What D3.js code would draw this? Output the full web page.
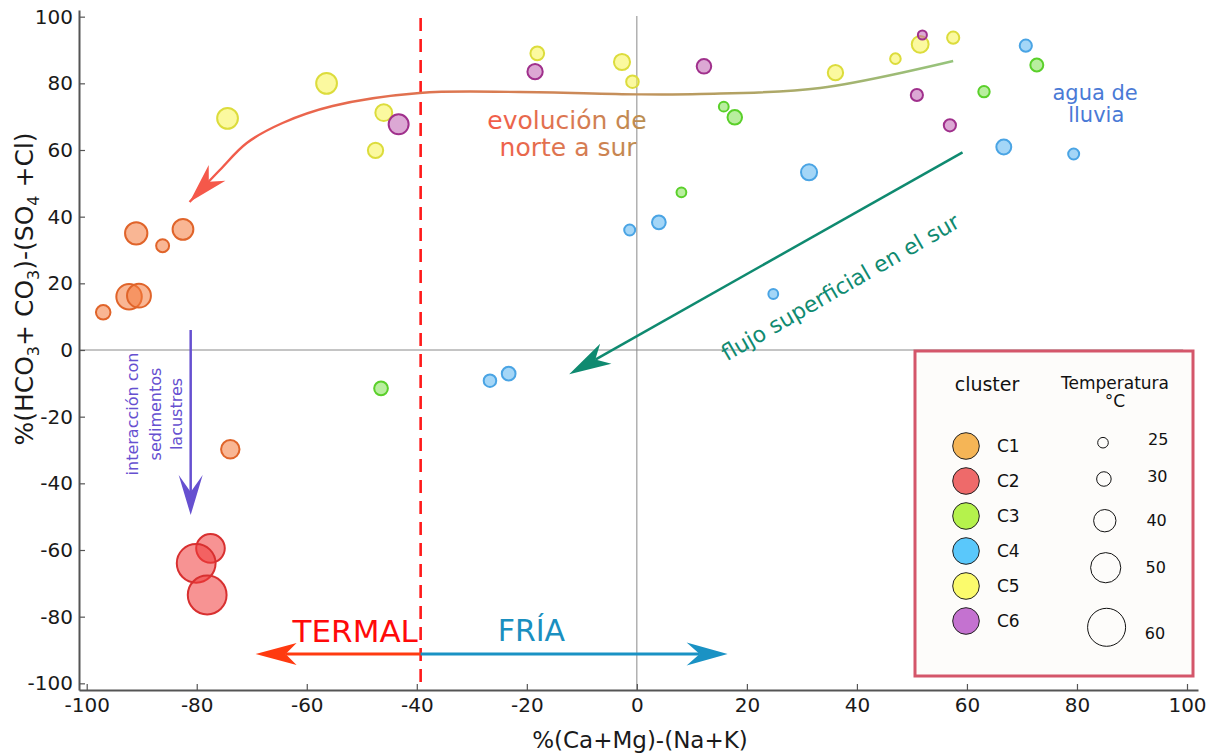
<!DOCTYPE html>
<html>
<head>
<meta charset="utf-8">
<script src="https://cdn.jsdelivr.net/npm/d3@7"></script>
<style>
  html, body { margin: 0; padding: 0; background: #fff; }
  svg { display: block; font-family: "DejaVu Sans", Verdana, sans-serif; }
</style>
</head>
<body>
<svg id="chart" width="1209" height="755"></svg>
<script>
// Samples per cluster: [ %(Ca+Mg)-(Na+K), %(HCO3+CO3)-(SO4+Cl), temperature °C ]
const c1 = [[-91.0, 35.0, 40], [-86.2, 31.3, 28], [-82.5, 36.2, 38], [-92.3, 16.0, 44],
            [-90.5, 16.3, 42], [-97.0, 11.3, 30], [-73.9, -29.8, 35]];
const c2 = [[-77.5, -59.5, 48], [-80.1, -64.0, 61], [-78.1, -73.5, 61]];
const c3 = [[-46.5, -11.5, 29], [15.8, 73.0, 24], [17.8, 69.8, 30], [8.1, 47.3, 24],
            [63.1, 77.5, 26], [72.7, 85.5, 28]];
const c4 = [[-1.3, 36.0, 25.5], [4.0, 38.3, 29], [31.3, 53.3, 32], [24.8, 16.8, 24],
            [-26.7, -9.2, 27.5], [-23.3, -7.1, 29], [70.7, 91.3, 27], [66.7, 60.9, 30.5],
            [79.4, 58.8, 25.5]];
const c5 = [[-74.4, 69.5, 38], [-56.4, 80.0, 38], [-46.0, 71.2, 33], [-47.5, 59.9, 31],
            [-18.1, 89.0, 29], [-2.7, 86.4, 32], [-0.8, 80.5, 27.5], [36.1, 83.2, 31],
            [47.0, 87.4, 25], [51.5, 91.7, 33], [57.5, 93.7, 27]];
const c6 = [[-43.3, 67.7, 37], [-18.5, 83.5, 31], [12.2, 85.1, 30], [51.9, 94.5, 23],
            [50.9, 76.5, 27], [56.9, 67.4, 27]];

const clusterNames = ["C1", "C2", "C3", "C4", "C5", "C6"];
const clusterData = [c1, c2, c3, c4, c5, c6];
const xTicks = [-100, -80, -60, -40, -20, 0, 20, 40, 60, 80, 100];
const yTicks = [-100, -80, -60, -40, -20, 0, 20, 40, 60, 80, 100];
const tempLegend = [25, 30, 40, 50, 60];

// Annotation geometry, in data units
const evolCurve = [[57.5, 86.7], [33.3, 78.6], [11.5, 76.8], [0, 76.7], [-21.3, 77.4],
                   [-39.5, 77.1], [-55.3, 73.2], [-64.4, 68.1], [-70.9, 62.1], [-75.8, 54.0],
                   [-81.3, 44.4]];
const surArrow = [[59.2, 59.3], [-12.3, -7.3]];
const lakeArrow = [[-81.1, 6.0], [-81.1, -49.5]];
const splitX = -39.3;
const thermalArrowY = -91.2;
const thermalTip = -69.3;
const coldTip = 16.5;

// Styling
const pointFill = ["#f47a3c", "#f03a3a", "#80e050", "#5ab4f0", "#f8f450", "#c060b0"];
const pointStroke = ["#e0642a", "#d83030", "#5ad02a", "#4aa4e4", "#dcdc3c", "#a0308c"];
const legendFill = ["#f5b556", "#ee6a6a", "#b5f24c", "#5ac8fb", "#fbfb6c", "#c472d0"];

const svg = d3.select("#chart");
const x = d3.scaleLinear().domain([-101.4, 102]).range([79, 1198]);
const y = d3.scaleLinear().domain([-102, 102]).range([690, 10]);
const r = d3.scaleLinear().domain([25, 60]).range([5.3, 19]);

const defs = svg.append("defs");
function hGradient(id, x1, x2, stops) {
  const g = defs.append("linearGradient").attr("id", id)
    .attr("gradientUnits", "userSpaceOnUse")
    .attr("x1", x1).attr("x2", x2).attr("y1", 0).attr("y2", 0);
  stops.forEach(([o, c]) => g.append("stop").attr("offset", o).attr("stop-color", c));
}
hGradient("evolLine", x(-81.3), x(57.5),
  [[0, "#f5574a"], [0.4, "#d87c52"], [0.7, "#b4a062"], [1, "#96c47c"]]);
hGradient("evolText", 483, 651, [[0, "#f45a48"], [0.55, "#d97a52"], [1, "#b89050"]]);

// Reference lines through zero
svg.append("line")
  .attr("x1", x(0)).attr("x2", x(0)).attr("y1", y(100.2)).attr("y2", y(-102))
  .attr("stroke", "#8a8a8a").attr("stroke-width", 1);
svg.append("line")
  .attr("x1", x(-101.4)).attr("x2", x(99.3)).attr("y1", y(0)).attr("y2", y(0))
  .attr("stroke", "#8a8a8a").attr("stroke-width", 1);

// Axes (ticks pointing inward)
const fmt = d => String(d);
const xAxis = svg.append("g").attr("transform", `translate(0,${y(-102)})`)
  .call(d3.axisBottom(x).tickValues(xTicks).tickFormat(fmt)
    .tickSizeInner(-6).tickSizeOuter(0).tickPadding(8));
const yAxis = svg.append("g").attr("transform", `translate(${x(-101.4)},0)`)
  .call(d3.axisLeft(y).tickValues(yTicks).tickFormat(fmt)
    .tickSizeInner(-6).tickSizeOuter(0).tickPadding(6));
[xAxis, yAxis].forEach(a => {
  a.select(".domain").attr("stroke", "#555").attr("stroke-width", 2);
  a.selectAll(".tick line").attr("stroke", "#555").attr("stroke-width", 1.2);
  a.selectAll(".tick text").attr("fill", "#1a1a1a").style("font-size", "20px")
    .style("font-family", "'DejaVu Sans', Verdana, sans-serif");
});

// Axis titles
svg.append("text")
  .attr("x", 640).attr("y", 748).attr("text-anchor", "middle")
  .style("font-size", "23px").attr("fill", "#1a1a1a")
  .text("%(Ca+Mg)-(Na+K)");
const yTitle = svg.append("text")
  .attr("transform", "translate(33,289) rotate(-90)")
  .attr("text-anchor", "middle").style("font-size", "25px").attr("fill", "#1a1a1a");
[["%(HCO", false], ["3", true], ["+ CO", false], ["3", true], [")-(SO", false],
 ["4", true], [" +Cl)", false]].forEach(([t, sub], i) => {
  const ts = yTitle.append("tspan").text(t);
  if (sub) ts.attr("dy", 6).style("font-size", "16px");
  else if (i > 0) ts.attr("dy", -6);
});

// Thermal / cold divide
svg.append("line")
  .attr("x1", x(splitX)).attr("x2", x(splitX)).attr("y1", y(99.6)).attr("y2", y(-102))
  .attr("stroke", "#ff1a1a").attr("stroke-width", 2.6).attr("stroke-dasharray", "13,8");

// Arrowhead helper: filled, notched triangle at tip, pointing away from `from`
function arrowHead(tip, from, L, W, N, color) {
  const dx = tip[0] - from[0], dy = tip[1] - from[1];
  const len = Math.hypot(dx, dy), ux = dx / len, uy = dy / len;
  const nx = -uy, ny = ux;
  const bx = tip[0] - L * ux, by = tip[1] - L * uy;
  const pts = [tip, [bx + W * nx, by + W * ny], [tip[0] - (L - N) * ux, tip[1] - (L - N) * uy],
               [bx - W * nx, by - W * ny]];
  svg.append("path").attr("d", "M" + pts.map(p => p.join(",")).join("L") + "Z")
    .attr("fill", color);
}
function straightArrow(p0, p1, color, width, L, W, N) {
  const a = [x(p0[0]), y(p0[1])], b = [x(p1[0]), y(p1[1])];
  const dx = b[0] - a[0], dy = b[1] - a[1], len = Math.hypot(dx, dy);
  const end = [b[0] - (L - N) * dx / len, b[1] - (L - N) * dy / len];
  svg.append("line").attr("x1", a[0]).attr("y1", a[1]).attr("x2", end[0]).attr("y2", end[1])
    .attr("stroke", color).attr("stroke-width", width);
  arrowHead(b, a, L, W, N, color);
}

// TERMAL / FRÍA arrows
straightArrow([splitX, thermalArrowY], [thermalTip, thermalArrowY], "#ff3a10", 3, 41, 11, 11);
straightArrow([splitX, thermalArrowY], [coldTip, thermalArrowY], "#1a92c4", 3, 41, 11.5, 13);
svg.append("text").attr("x", x(-39.8)).attr("y", y(-87.5)).attr("text-anchor", "end")
  .style("font-size", "31px").attr("fill", "#ff0a0a").text("TERMAL");
svg.append("text").attr("x", x(-25.3)).attr("y", y(-87.3)).attr("text-anchor", "start")
  .style("font-size", "30px").attr("fill", "#1a8fc0").text("FRÍA");

// North-to-south evolution curve
const evolPts = evolCurve.map(d => [x(d[0]), y(d[1])]);
svg.append("path")
  .attr("d", d3.line().curve(d3.curveCatmullRom.alpha(0.5))(evolPts))
  .attr("fill", "none").attr("stroke", "url(#evolLine)").attr("stroke-width", 2.4);
arrowHead(evolPts[evolPts.length - 1], evolPts[evolPts.length - 2], 40, 11.5, 12, "#f5584a");

const evolText = svg.append("text").attr("text-anchor", "middle")
  .style("font-size", "25px").attr("fill", "url(#evolText)");
evolText.append("tspan").attr("x", x(-12.7)).attr("y", y(66.3)).text("evolución de");
evolText.append("tspan").attr("x", x(-12.5)).attr("y", y(58.2)).text("norte a sur");

// Shallow flow in the south
straightArrow(surArrow[0], surArrow[1], "#0f8a70", 2.5, 42, 11.5, 12);
svg.append("text")
  .attr("transform", `translate(${x(37.0)},${y(18.8)}) rotate(-30)`)
  .attr("text-anchor", "middle").attr("dominant-baseline", "central")
  .style("font-size", "22px").attr("fill", "#0f8a70").text("flujo superficial en el sur");

// Interaction with lacustrine sediments
straightArrow(lakeArrow[0], lakeArrow[1], "#6650d0", 2.5, 40, 12, 17);
[["interacción con", -91.6], ["sedimentos", -87.5], ["lacustres", -83.7]].forEach(([t, xv]) => {
  svg.append("text")
    .attr("transform", `translate(${x(xv)},${y(-19.2)}) rotate(-90)`)
    .attr("text-anchor", "middle").attr("dominant-baseline", "central")
    .style("font-size", "16px").attr("fill", "#6650d0").text(t);
});

// Rain water
const rain = svg.append("text").attr("text-anchor", "middle")
  .style("font-size", "21px").attr("fill", "#4a7ad6");
rain.append("tspan").attr("x", x(83.3)).attr("y", y(75.0)).text("agua de");
rain.append("tspan").attr("x", x(83.5)).attr("y", y(68.5)).text("lluvia");

// Samples
clusterData.forEach((data, i) => {
  svg.append("g").selectAll("circle").data(data).join("circle")
    .attr("cx", d => x(d[0])).attr("cy", d => y(d[1])).attr("r", d => r(d[2]))
    .attr("fill", pointFill[i]).attr("fill-opacity", 0.55)
    .attr("stroke", pointStroke[i]).attr("stroke-width", 2);
});

// Legend
const lg = svg.append("g");
lg.append("rect").attr("x", 915).attr("y", 351).attr("width", 278).attr("height", 325)
  .attr("fill", "#fdfcfa").attr("stroke", "#d4566a").attr("stroke-width", 3);
lg.append("text").attr("x", 987).attr("y", 391).attr("text-anchor", "middle")
  .style("font-size", "19px").attr("fill", "#111").text("cluster");
lg.append("text").attr("x", 1115).attr("y", 389).attr("text-anchor", "middle")
  .style("font-size", "17px").attr("fill", "#111").text("Temperatura");
lg.append("text").attr("x", 1115).attr("y", 407).attr("text-anchor", "middle")
  .style("font-size", "17px").attr("fill", "#111").text("°C");
const clusterRowY = d3.scaleLinear().domain([0, 5]).range([446, 621]);
clusterNames.forEach((name, i) => {
  lg.append("circle").attr("cx", 966).attr("cy", clusterRowY(i)).attr("r", 13.3)
    .attr("fill", legendFill[i]).attr("stroke", "#222").attr("stroke-width", 1);
  lg.append("text").attr("x", 997).attr("y", clusterRowY(i)).attr("dominant-baseline", "central")
    .style("font-size", "17px").attr("fill", "#111").text(name);
});
const tempRowY = [442.7, 479, 520.7, 567.7, 627.3];
const tempLabelY = [439, 476.7, 520, 567.7, 633.3];
tempLegend.forEach((t, i) => {
  lg.append("circle").attr("cx", 1103 + i * 0.9).attr("cy", tempRowY[i]).attr("r", r(t))
    .attr("fill", "none").attr("stroke", "#111").attr("stroke-width", 1);
  lg.append("text").attr("x", 1148 - i * 0.8).attr("y", tempLabelY[i])
    .attr("dominant-baseline", "central")
    .style("font-size", "16px").attr("fill", "#111").text(t);
});
</script>
</body>
</html>
